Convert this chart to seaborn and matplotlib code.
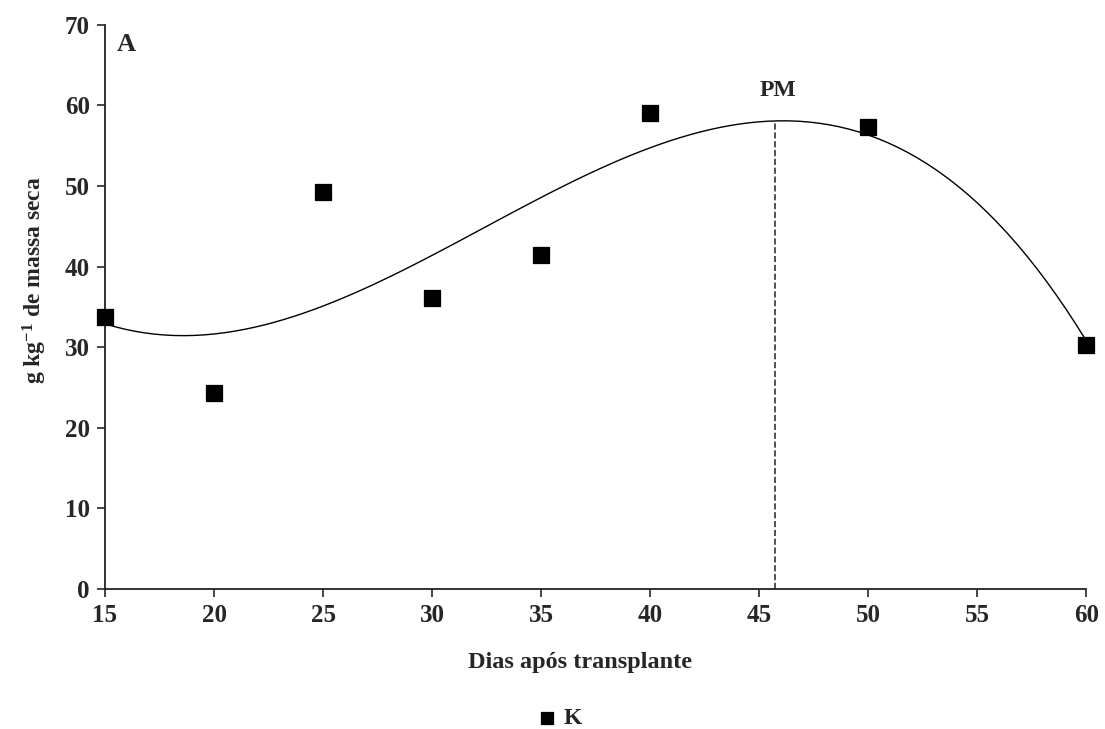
import numpy as np
import pandas as pd
import matplotlib.pyplot as plt
import seaborn as sns

# K content (g/kg dry mass) by days after transplant
dias = [15, 20, 25, 30, 35, 40, 50, 60]
k_teor = [33.8, 24.3, 49.3, 36.1, 41.4, 59.0, 57.3, 30.3]
pm_dia = 45.75

df = pd.DataFrame({'dias': dias, 'K': k_teor})

sns.set_style('white')
plt.rcParams['font.family'] = ['Liberation Serif', 'DejaVu Serif']
plt.rcParams['font.weight'] = 'bold'
plt.rcParams['mathtext.fontset'] = 'custom'
plt.rcParams['mathtext.bf'] = 'Liberation Serif:bold'
plt.rcParams['mathtext.rm'] = 'Liberation Serif:bold'
plt.rcParams['mathtext.default'] = 'bf'

fig = plt.figure(figsize=(11.05, 7.29), dpi=100)
ax = fig.add_axes([0.095, 0.192, 0.888, 0.774])

# cubic trend line
sns.regplot(data=df, x='dias', y='K', order=3, ci=None, scatter=False,
            truncate=True, color='black', line_kws={'lw': 1.0}, ax=ax)
sns.scatterplot(data=df, x='dias', y='K', marker='s', s=130, color='black',
                edgecolor='black', zorder=5, clip_on=False, ax=ax, label='K')

ax.axvline(pm_dia, ymin=0, ymax=58/70, color='#333333', ls='--', lw=1.2)
ax.text(pm_dia + 0.1, 60.6, 'PM', ha='center', va='bottom', fontsize=17, fontweight='bold')
ax.text(16.0, 67.5, 'A', ha='center', va='center', fontsize=19, fontweight='bold')

ax.set_xlim(15, 60)
ax.set_ylim(0, 70)
ax.set_xticks(range(15, 61, 5))
ax.set_yticks(range(0, 71, 10))
ax.tick_params(axis='both', direction='out', length=6, width=1.2, labelsize=18,
               bottom=True, left=True, pad=5)
for lab in ax.get_xticklabels() + ax.get_yticklabels():
    lab.set_fontweight('bold')
sns.despine(ax=ax)
for s in ['left', 'bottom']:
    ax.spines[s].set_linewidth(1.3)
    ax.spines[s].set_color('#222222')

ax.set_xlabel('Dias após transplante', fontsize=17.5, fontweight='bold')
ax.set_ylabel('g kg$^{-1}$ de massa seca', fontsize=17, fontweight='bold')
ax.xaxis.set_label_coords(0.484, -0.112)
ax.yaxis.set_label_coords(-0.057, 0.548)

ax.legend_.remove()
h, l = ax.get_legend_handles_labels()
fig.legend(h, l, loc='center', bbox_to_anchor=(0.5, 0.015), frameon=False,
           fontsize=17, handletextpad=-0.3, markerscale=0.75, borderaxespad=0)

fig.savefig('out.png', dpi=100)
